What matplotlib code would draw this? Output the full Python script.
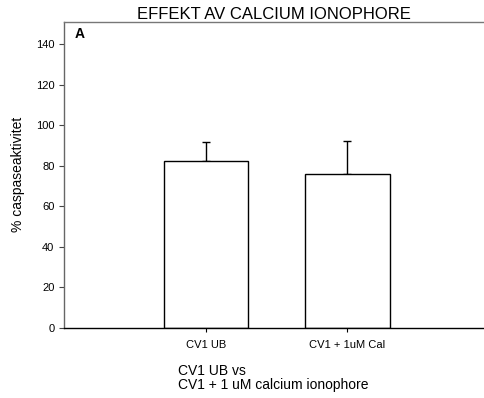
import matplotlib
matplotlib.use("Agg")
import matplotlib.pyplot as plt

plt.rcParams['font.family'] = ['Liberation Sans', 'DejaVu Sans']

# Caspase activity data
groups = ['CV1 UB', 'CV1 + 1uM Cal']
activity = [82.5, 75.8]
sem = [9.1, 16.3]
yticks = [0, 20, 40, 60, 80, 100, 120, 140]

fig = plt.figure(figsize=(4.85, 3.98), dpi=100)
ax = fig.add_axes([64.5 / 485, 70 / 398, 424.5 / 485, 306 / 398])

pos = [1, 2]
ax.bar(pos, activity, width=0.6, color='white', edgecolor='black', linewidth=1.0, zorder=2)
ax.errorbar(pos, activity, yerr=[[0] * len(sem), sem], fmt='none', ecolor='black',
            elinewidth=1.0, capsize=3, capthick=1.0, zorder=1)

ax.set_xlim(0, 3)
ax.set_ylim(0, 151)
ax.set_xticks(pos)
ax.set_xticklabels(groups, fontsize=8)
ax.set_yticks(yticks)
ax.tick_params(axis='y', labelsize=8, length=3.6, width=0.8, pad=3.6, color='#444444')
ax.tick_params(axis='x', length=3, width=0.8, pad=6)

ax.spines['right'].set_visible(False)
ax.spines['left'].set_color('#666666')
ax.spines['top'].set_color('#777777')
ax.spines['bottom'].set_color('black')
for s in ['left', 'top', 'bottom']:
    ax.spines[s].set_linewidth(1.0)

fig.text(274 / 485, 1 - 19 / 398, 'EFFEKT AV CALCIUM IONOPHORE', fontsize=12,
         ha='center', va='baseline')
fig.text(75 / 485, 1 - 37.5 / 398, 'A', fontsize=10, fontweight='bold',
         ha='left', va='baseline')
fig.text(18 / 485, 1 - 174 / 398, '% caspaseaktivitet', fontsize=10, rotation=90,
         ha='center', va='center')
# baseline alignment anchors the last line
fig.text(178 / 485, 1 - 389.5 / 398, 'CV1 UB vs\nCV1 + 1 uM calcium ionophore',
         fontsize=10, ha='left', va='baseline', linespacing=1.08)

fig.savefig('out.png', dpi=100)
